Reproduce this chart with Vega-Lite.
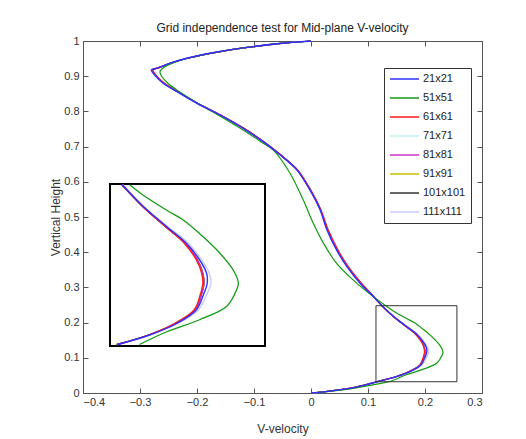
{
"$schema": "https://vega.github.io/schema/vega-lite/v6.json",
"width": 399, "height": 352,
"autosize": {"type": "none"},
"padding": {"left": 83, "top": 41, "right": 44, "bottom": 46},
"background": "white",
"title": {"text": "Grid independence test for Mid-plane V-velocity", "font": "Liberation Sans", "fontSize": 12, "fontWeight": "normal", "color": "#222", "offset": 0},
"datasets": {
"box": [{"x1": 0.114, "x2": 0.256, "y1": 0.032, "y2": 0.248}],
"curves": [
{"g":"71x71","y":0,"x":0},{"g":"71x71","y":0.004,"x":0.025},{"g":"71x71","y":0.013,"x":0.068},{"g":"71x71","y":0.024,"x":0.098},{"g":"71x71","y":0.034,"x":0.121},{"g":"71x71","y":0.047,"x":0.150},{"g":"71x71","y":0.062,"x":0.173},{"g":"71x71","y":0.080,"x":0.191},{"g":"71x71","y":0.102,"x":0.197},{"g":"71x71","y":0.115,"x":0.199},{"g":"71x71","y":0.129,"x":0.198},{"g":"71x71","y":0.147,"x":0.193},{"g":"71x71","y":0.169,"x":0.182},{"g":"71x71","y":0.191,"x":0.165},{"g":"71x71","y":0.218,"x":0.144},{"g":"71x71","y":0.247,"x":0.125},{"g":"71x71","y":0.274,"x":0.110},{"g":"71x71","y":0.312,"x":0.088},{"g":"71x71","y":0.359,"x":0.065},{"g":"71x71","y":0.406,"x":0.047},{"g":"71x71","y":0.463,"x":0.030},{"g":"71x71","y":0.520,"x":0.017},{"g":"71x71","y":0.577,"x":-0.001},{"g":"71x71","y":0.634,"x":-0.024},{"g":"71x71","y":0.676,"x":-0.053},{"g":"71x71","y":0.714,"x":-0.083},{"g":"71x71","y":0.752,"x":-0.118},{"g":"71x71","y":0.790,"x":-0.159},{"g":"71x71","y":0.823,"x":-0.199},{"g":"71x71","y":0.857,"x":-0.235},{"g":"71x71","y":0.880,"x":-0.257},{"g":"71x71","y":0.903,"x":-0.272},{"g":"71x71","y":0.918,"x":-0.277},{"g":"71x71","y":0.923,"x":-0.268},{"g":"71x71","y":0.937,"x":-0.246},{"g":"71x71","y":0.951,"x":-0.217},{"g":"71x71","y":0.970,"x":-0.159},{"g":"71x71","y":0.984,"x":-0.101},{"g":"71x71","y":0.993,"x":-0.053},{"g":"71x71","y":1,"x":0},
{"g":"111x111","y":0,"x":0},{"g":"111x111","y":0.004,"x":0.025},{"g":"111x111","y":0.013,"x":0.068},{"g":"111x111","y":0.024,"x":0.098},{"g":"111x111","y":0.034,"x":0.121},{"g":"111x111","y":0.047,"x":0.151},{"g":"111x111","y":0.062,"x":0.176},{"g":"111x111","y":0.080,"x":0.195},{"g":"111x111","y":0.102,"x":0.203},{"g":"111x111","y":0.115,"x":0.2065},{"g":"111x111","y":0.129,"x":0.205},{"g":"111x111","y":0.147,"x":0.198},{"g":"111x111","y":0.169,"x":0.186},{"g":"111x111","y":0.191,"x":0.167},{"g":"111x111","y":0.218,"x":0.145},{"g":"111x111","y":0.247,"x":0.126},{"g":"111x111","y":0.274,"x":0.111},{"g":"111x111","y":0.312,"x":0.089},{"g":"111x111","y":0.359,"x":0.066},{"g":"111x111","y":0.406,"x":0.048},{"g":"111x111","y":0.463,"x":0.031},{"g":"111x111","y":0.520,"x":0.018},{"g":"111x111","y":0.577,"x":0.000},{"g":"111x111","y":0.634,"x":-0.023},{"g":"111x111","y":0.676,"x":-0.052},{"g":"111x111","y":0.714,"x":-0.083},{"g":"111x111","y":0.752,"x":-0.119},{"g":"111x111","y":0.790,"x":-0.161},{"g":"111x111","y":0.823,"x":-0.201},{"g":"111x111","y":0.857,"x":-0.237},{"g":"111x111","y":0.880,"x":-0.260},{"g":"111x111","y":0.903,"x":-0.275},{"g":"111x111","y":0.918,"x":-0.281},{"g":"111x111","y":0.923,"x":-0.271},{"g":"111x111","y":0.937,"x":-0.248},{"g":"111x111","y":0.951,"x":-0.219},{"g":"111x111","y":0.970,"x":-0.161},{"g":"111x111","y":0.984,"x":-0.103},{"g":"111x111","y":0.993,"x":-0.055},{"g":"111x111","y":1,"x":0},
{"g":"91x91","y":0,"x":0},{"g":"91x91","y":0.004,"x":0.024},{"g":"91x91","y":0.013,"x":0.066},{"g":"91x91","y":0.024,"x":0.096},{"g":"91x91","y":0.034,"x":0.120},{"g":"91x91","y":0.047,"x":0.150},{"g":"91x91","y":0.062,"x":0.174},{"g":"91x91","y":0.080,"x":0.192},{"g":"91x91","y":0.102,"x":0.198},{"g":"91x91","y":0.115,"x":0.200},{"g":"91x91","y":0.129,"x":0.199},{"g":"91x91","y":0.147,"x":0.194},{"g":"91x91","y":0.169,"x":0.183},{"g":"91x91","y":0.191,"x":0.165},{"g":"91x91","y":0.218,"x":0.144},{"g":"91x91","y":0.247,"x":0.125},{"g":"91x91","y":0.274,"x":0.110},{"g":"91x91","y":0.312,"x":0.088},{"g":"91x91","y":0.359,"x":0.065},{"g":"91x91","y":0.406,"x":0.047},{"g":"91x91","y":0.463,"x":0.030},{"g":"91x91","y":0.520,"x":0.017},{"g":"91x91","y":0.577,"x":-0.001},{"g":"91x91","y":0.634,"x":-0.024},{"g":"91x91","y":0.676,"x":-0.053},{"g":"91x91","y":0.714,"x":-0.083},{"g":"91x91","y":0.752,"x":-0.118},{"g":"91x91","y":0.790,"x":-0.159},{"g":"91x91","y":0.823,"x":-0.199},{"g":"91x91","y":0.857,"x":-0.235},{"g":"91x91","y":0.880,"x":-0.257},{"g":"91x91","y":0.903,"x":-0.273},{"g":"91x91","y":0.918,"x":-0.278},{"g":"91x91","y":0.923,"x":-0.269},{"g":"91x91","y":0.937,"x":-0.246},{"g":"91x91","y":0.951,"x":-0.217},{"g":"91x91","y":0.970,"x":-0.159},{"g":"91x91","y":0.984,"x":-0.101},{"g":"91x91","y":0.993,"x":-0.053},{"g":"91x91","y":1,"x":0},
{"g":"101x101","y":0,"x":0},{"g":"101x101","y":0.004,"x":0.025},{"g":"101x101","y":0.013,"x":0.067},{"g":"101x101","y":0.024,"x":0.097},{"g":"101x101","y":0.034,"x":0.120},{"g":"101x101","y":0.047,"x":0.150},{"g":"101x101","y":0.062,"x":0.174},{"g":"101x101","y":0.080,"x":0.192},{"g":"101x101","y":0.102,"x":0.198},{"g":"101x101","y":0.115,"x":0.200},{"g":"101x101","y":0.129,"x":0.199},{"g":"101x101","y":0.147,"x":0.194},{"g":"101x101","y":0.169,"x":0.183},{"g":"101x101","y":0.191,"x":0.165},{"g":"101x101","y":0.218,"x":0.144},{"g":"101x101","y":0.247,"x":0.125},{"g":"101x101","y":0.274,"x":0.110},{"g":"101x101","y":0.312,"x":0.087},{"g":"101x101","y":0.359,"x":0.064},{"g":"101x101","y":0.406,"x":0.046},{"g":"101x101","y":0.463,"x":0.029},{"g":"101x101","y":0.520,"x":0.017},{"g":"101x101","y":0.577,"x":-0.001},{"g":"101x101","y":0.634,"x":-0.024},{"g":"101x101","y":0.676,"x":-0.053},{"g":"101x101","y":0.714,"x":-0.083},{"g":"101x101","y":0.752,"x":-0.118},{"g":"101x101","y":0.790,"x":-0.159},{"g":"101x101","y":0.823,"x":-0.199},{"g":"101x101","y":0.857,"x":-0.235},{"g":"101x101","y":0.880,"x":-0.258},{"g":"101x101","y":0.903,"x":-0.273},{"g":"101x101","y":0.918,"x":-0.278},{"g":"101x101","y":0.923,"x":-0.269},{"g":"101x101","y":0.937,"x":-0.246},{"g":"101x101","y":0.951,"x":-0.217},{"g":"101x101","y":0.970,"x":-0.159},{"g":"101x101","y":0.984,"x":-0.101},{"g":"101x101","y":0.993,"x":-0.053},{"g":"101x101","y":1,"x":0},
{"g":"81x81","y":0,"x":0},{"g":"81x81","y":0.004,"x":0.025},{"g":"81x81","y":0.013,"x":0.068},{"g":"81x81","y":0.024,"x":0.098},{"g":"81x81","y":0.034,"x":0.121},{"g":"81x81","y":0.047,"x":0.150},{"g":"81x81","y":0.062,"x":0.174},{"g":"81x81","y":0.080,"x":0.192},{"g":"81x81","y":0.102,"x":0.198},{"g":"81x81","y":0.115,"x":0.200},{"g":"81x81","y":0.129,"x":0.199},{"g":"81x81","y":0.147,"x":0.194},{"g":"81x81","y":0.169,"x":0.183},{"g":"81x81","y":0.191,"x":0.165},{"g":"81x81","y":0.218,"x":0.144},{"g":"81x81","y":0.247,"x":0.125},{"g":"81x81","y":0.274,"x":0.110},{"g":"81x81","y":0.312,"x":0.088},{"g":"81x81","y":0.359,"x":0.065},{"g":"81x81","y":0.406,"x":0.047},{"g":"81x81","y":0.463,"x":0.030},{"g":"81x81","y":0.520,"x":0.017},{"g":"81x81","y":0.577,"x":-0.001},{"g":"81x81","y":0.634,"x":-0.024},{"g":"81x81","y":0.676,"x":-0.053},{"g":"81x81","y":0.714,"x":-0.083},{"g":"81x81","y":0.752,"x":-0.118},{"g":"81x81","y":0.790,"x":-0.159},{"g":"81x81","y":0.823,"x":-0.199},{"g":"81x81","y":0.857,"x":-0.235},{"g":"81x81","y":0.880,"x":-0.258},{"g":"81x81","y":0.903,"x":-0.273},{"g":"81x81","y":0.918,"x":-0.278},{"g":"81x81","y":0.923,"x":-0.269},{"g":"81x81","y":0.937,"x":-0.246},{"g":"81x81","y":0.951,"x":-0.217},{"g":"81x81","y":0.970,"x":-0.159},{"g":"81x81","y":0.984,"x":-0.101},{"g":"81x81","y":0.993,"x":-0.053},{"g":"81x81","y":1,"x":0},
{"g":"61x61","y":0,"x":0},{"g":"61x61","y":0.004,"x":0.025},{"g":"61x61","y":0.013,"x":0.068},{"g":"61x61","y":0.024,"x":0.098},{"g":"61x61","y":0.034,"x":0.121},{"g":"61x61","y":0.047,"x":0.150},{"g":"61x61","y":0.062,"x":0.173},{"g":"61x61","y":0.080,"x":0.191},{"g":"61x61","y":0.102,"x":0.197},{"g":"61x61","y":0.115,"x":0.199},{"g":"61x61","y":0.129,"x":0.198},{"g":"61x61","y":0.147,"x":0.193},{"g":"61x61","y":0.169,"x":0.182},{"g":"61x61","y":0.191,"x":0.165},{"g":"61x61","y":0.218,"x":0.144},{"g":"61x61","y":0.247,"x":0.125},{"g":"61x61","y":0.274,"x":0.110},{"g":"61x61","y":0.312,"x":0.088},{"g":"61x61","y":0.359,"x":0.065},{"g":"61x61","y":0.406,"x":0.047},{"g":"61x61","y":0.463,"x":0.030},{"g":"61x61","y":0.520,"x":0.017},{"g":"61x61","y":0.577,"x":-0.001},{"g":"61x61","y":0.634,"x":-0.024},{"g":"61x61","y":0.676,"x":-0.053},{"g":"61x61","y":0.714,"x":-0.083},{"g":"61x61","y":0.752,"x":-0.118},{"g":"61x61","y":0.790,"x":-0.159},{"g":"61x61","y":0.823,"x":-0.199},{"g":"61x61","y":0.857,"x":-0.235},{"g":"61x61","y":0.880,"x":-0.257},{"g":"61x61","y":0.903,"x":-0.272},{"g":"61x61","y":0.918,"x":-0.277},{"g":"61x61","y":0.923,"x":-0.268},{"g":"61x61","y":0.937,"x":-0.246},{"g":"61x61","y":0.951,"x":-0.217},{"g":"61x61","y":0.970,"x":-0.159},{"g":"61x61","y":0.984,"x":-0.101},{"g":"61x61","y":0.993,"x":-0.053},{"g":"61x61","y":1,"x":0},
{"g":"51x51","y":0,"x":0},{"g":"51x51","y":0.006,"x":0.040},{"g":"51x51","y":0.016,"x":0.085},{"g":"51x51","y":0.025,"x":0.115},{"g":"51x51","y":0.034,"x":0.141},{"g":"51x51","y":0.051,"x":0.166},{"g":"51x51","y":0.067,"x":0.196},{"g":"51x51","y":0.085,"x":0.221},{"g":"51x51","y":0.107,"x":0.230},{"g":"51x51","y":0.116,"x":0.2316},{"g":"51x51","y":0.133,"x":0.227},{"g":"51x51","y":0.160,"x":0.212},{"g":"51x51","y":0.182,"x":0.196},{"g":"51x51","y":0.200,"x":0.181},{"g":"51x51","y":0.213,"x":0.166},{"g":"51x51","y":0.233,"x":0.1445},{"g":"51x51","y":0.247,"x":0.132},{"g":"51x51","y":0.288,"x":0.098},{"g":"51x51","y":0.330,"x":0.068},{"g":"51x51","y":0.368,"x":0.045},{"g":"51x51","y":0.425,"x":0.022},{"g":"51x51","y":0.482,"x":0.004},{"g":"51x51","y":0.548,"x":-0.0135},{"g":"51x51","y":0.625,"x":-0.037},{"g":"51x51","y":0.690,"x":-0.066},{"g":"51x51","y":0.714,"x":-0.088},{"g":"51x51","y":0.752,"x":-0.124},{"g":"51x51","y":0.790,"x":-0.163},{"g":"51x51","y":0.823,"x":-0.199},{"g":"51x51","y":0.857,"x":-0.232},{"g":"51x51","y":0.880,"x":-0.251},{"g":"51x51","y":0.900,"x":-0.262},{"g":"51x51","y":0.913,"x":-0.265},{"g":"51x51","y":0.925,"x":-0.258},{"g":"51x51","y":0.937,"x":-0.243},{"g":"51x51","y":0.951,"x":-0.216},{"g":"51x51","y":0.970,"x":-0.160},{"g":"51x51","y":0.984,"x":-0.101},{"g":"51x51","y":0.993,"x":-0.054},{"g":"51x51","y":1,"x":0},
{"g":"21x21","y":0,"x":0},{"g":"21x21","y":0.004,"x":0.025},{"g":"21x21","y":0.013,"x":0.068},{"g":"21x21","y":0.024,"x":0.098},{"g":"21x21","y":0.034,"x":0.121},{"g":"21x21","y":0.047,"x":0.151},{"g":"21x21","y":0.062,"x":0.175},{"g":"21x21","y":0.080,"x":0.193},{"g":"21x21","y":0.102,"x":0.200},{"g":"21x21","y":0.115,"x":0.203},{"g":"21x21","y":0.129,"x":0.2025},{"g":"21x21","y":0.147,"x":0.196},{"g":"21x21","y":0.169,"x":0.184},{"g":"21x21","y":0.191,"x":0.166},{"g":"21x21","y":0.218,"x":0.1445},{"g":"21x21","y":0.247,"x":0.125},{"g":"21x21","y":0.274,"x":0.109},{"g":"21x21","y":0.312,"x":0.086},{"g":"21x21","y":0.359,"x":0.063},{"g":"21x21","y":0.406,"x":0.045},{"g":"21x21","y":0.463,"x":0.028},{"g":"21x21","y":0.520,"x":0.016},{"g":"21x21","y":0.577,"x":-0.002},{"g":"21x21","y":0.634,"x":-0.025},{"g":"21x21","y":0.676,"x":-0.054},{"g":"21x21","y":0.714,"x":-0.084},{"g":"21x21","y":0.752,"x":-0.119},{"g":"21x21","y":0.790,"x":-0.160},{"g":"21x21","y":0.823,"x":-0.200},{"g":"21x21","y":0.857,"x":-0.236},{"g":"21x21","y":0.880,"x":-0.259},{"g":"21x21","y":0.903,"x":-0.274},{"g":"21x21","y":0.918,"x":-0.280},{"g":"21x21","y":0.923,"x":-0.270},{"g":"21x21","y":0.937,"x":-0.247},{"g":"21x21","y":0.951,"x":-0.218},{"g":"21x21","y":0.970,"x":-0.160},{"g":"21x21","y":0.984,"x":-0.102},{"g":"21x21","y":0.993,"x":-0.054},{"g":"21x21","y":1,"x":0}
]
},
"config": {
  "view": {"stroke": "#555", "strokeWidth": 1},
  "axis": {"labelFont": "Liberation Sans", "titleFont": "Liberation Sans", "labelFontSize": 11, "titleFontSize": 12, "titleFontWeight": "normal", "labelColor": "#333", "titleColor": "#333", "domainColor": "#555", "tickColor": "#555", "grid": false, "tickSize": -5}
},
"layer": [
  {"layer": [
    {"data": {"name": "curves"},
     "transform": [{"filter": "datum.g != '21x21'"}],
     "mark": {"type": "line", "interpolate": "catmull-rom", "strokeWidth": 1.2},
     "encoding": {
       "x": {"field": "x", "type": "quantitative", "scale": {"domain": [-0.4, 0.3], "nice": false, "zero": false},
             "axis": {"values": [-0.4, -0.3, -0.2, -0.1, 0, 0.1, 0.2, 0.3], "format": "~g", "title": "V-velocity", "labelPadding": 8, "titlePadding": 16}},
       "y": {"field": "y", "type": "quantitative", "scale": {"domain": [0, 1], "nice": false, "zero": false},
             "axis": {"values": [0, 0.1, 0.2, 0.3, 0.4, 0.5, 0.6, 0.7, 0.8, 0.9, 1], "format": "~g", "title": "Vertical Height", "labelPadding": 9, "titlePadding": 1}},
       "color": {"field": "g", "type": "nominal",
                 "scale": {"domain": ["21x21", "51x51", "61x61", "71x71", "81x81", "91x91", "101x101", "111x111"],
                           "range": ["#3030ff", "#139a13", "#ff1a1a", "#c4eeee", "#cc33cc", "#c8c000", "#333333", "#c8c8ff"]},
                 "legend": {"orient": "none", "legendX": 301, "legendY": 27, "title": null, "symbolType": "stroke", "symbolSize": 841, "symbolStrokeWidth": 1.5, "clipHeight": 12, "labelFont": "Liberation Sans", "labelFontSize": 11, "labelColor": "#222", "strokeColor": "#333", "fillColor": "white", "padding": 5, "labelOffset": 3, "rowPadding": 7}},
       "order": {"field": "y", "type": "quantitative"}
     }},
    {"data": {"name": "curves"},
     "transform": [{"filter": "datum.g == '21x21'"}],
     "mark": {"type": "line", "interpolate": "catmull-rom", "strokeWidth": 1.4},
     "encoding": {
       "x": {"field": "x", "type": "quantitative", "scale": {"domain": [-0.4, 0.3], "nice": false, "zero": false}, "axis": null},
       "y": {"field": "y", "type": "quantitative", "scale": {"domain": [0, 1], "nice": false, "zero": false}, "axis": null},
       "color": {"field": "g", "type": "nominal"},
       "order": {"field": "y", "type": "quantitative"}
     }},
    {"data": {"name": "box"},
     "mark": {"type": "rect", "fill": "transparent", "stroke": "#333", "strokeWidth": 1},
     "encoding": {
       "x": {"field": "x1", "type": "quantitative", "scale": {"domain": [-0.4, 0.3], "nice": false, "zero": false},
             "axis": {"orient": "top", "values": [-0.4, -0.3, -0.2, -0.1, 0, 0.1, 0.2, 0.3], "labels": false, "title": null}},
       "x2": {"field": "x2"},
       "y": {"field": "y1", "type": "quantitative", "scale": {"domain": [0, 1], "nice": false, "zero": false},
             "axis": {"orient": "right", "values": [0, 0.1, 0.2, 0.3, 0.4, 0.5, 0.6, 0.7, 0.8, 0.9, 1], "labels": false, "title": null}},
       "y2": {"field": "y2"}
     }}
  ], "resolve": {"axis": {"x": "independent", "y": "independent"}}},
  {"layer": [
    {"data": {"name": "box"},
     "mark": {"type": "rect", "fill": "white", "stroke": "#000", "strokeWidth": 2},
     "encoding": {
       "x": {"field": "x1", "type": "quantitative", "scale": {"domain": [0.114, 0.256], "range": [27, 182], "nice": false, "zero": false}, "axis": null},
       "x2": {"field": "x2"},
       "y": {"field": "y1", "type": "quantitative", "scale": {"domain": [0.032, 0.248], "range": [305, 143], "nice": false, "zero": false}, "axis": null},
       "y2": {"field": "y2"}
     }},
    {"data": {"name": "curves"},
     "transform": [{"filter": "datum.y >= 0.03 && datum.y <= 0.25 && datum.g != '21x21'"}],
     "mark": {"type": "line", "interpolate": "catmull-rom", "strokeWidth": 1.3},
     "encoding": {
       "x": {"field": "x", "type": "quantitative", "axis": null},
       "y": {"field": "y", "type": "quantitative", "axis": null},
       "color": {"field": "g", "type": "nominal"},
       "order": {"field": "y", "type": "quantitative"}
     }},
    {"data": {"name": "curves"},
     "transform": [{"filter": "datum.y >= 0.03 && datum.y <= 0.25 && datum.g == '21x21'"}],
     "mark": {"type": "line", "interpolate": "catmull-rom", "strokeWidth": 1.4},
     "encoding": {
       "x": {"field": "x", "type": "quantitative", "axis": null},
       "y": {"field": "y", "type": "quantitative", "axis": null},
       "color": {"field": "g", "type": "nominal"},
       "order": {"field": "y", "type": "quantitative"}
     }}
  ]}
],
"resolve": {"scale": {"x": "independent", "y": "independent"}}
}
